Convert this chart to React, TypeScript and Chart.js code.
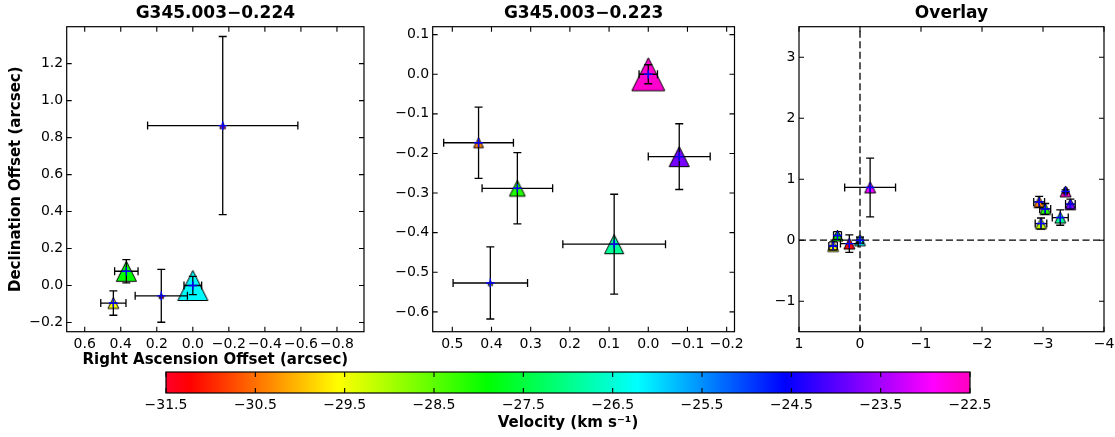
import React, { useEffect, useRef } from "react";
import { Chart, registerables } from "chart.js";

Chart.register(...registerables);

// ---------------- DATA ----------------
// G345.003−0.224 maser spots (offsets in arcsec, velocity in km/s, relative peak intensity)
const g224RA = [-0.166, 0.369, 0.441, 0.175, 0.0];
const g224Dec = [0.865, 0.077, -0.095, -0.056, 0.0];
const g224RAErr = [0.417, 0.065, 0.07, 0.145, 0.049];
const g224DecErr = [0.482, 0.063, 0.066, 0.143, 0.049];
const g224Velocity = [-23.0, -27.9, -29.55, -31.3, -26.2];
const g224Intensity = [0.18, 0.61, 0.33, 0.15, 0.91];

// G345.003−0.223 maser spots
const g223RA = [0.0, 0.433, 0.334, -0.079, 0.087, 0.403];
const g223Dec = [0.0, -0.173, -0.288, -0.208, -0.429, -0.527];
const g223RAErr = [0.0235, 0.089, 0.09, 0.079, 0.131, 0.095];
const g223DecErr = [0.024, 0.09, 0.09, 0.083, 0.126, 0.091];
const g223Velocity = [-22.6, -30.4, -28.1, -23.8, -26.9, -29.15];
const g223Intensity = [1.0, 0.3, 0.48, 0.61, 0.58, 0.15];

// reference position of G345.003−0.223 relative to G345.003−0.224 (arcsec)
const g223OffsetRA = -3.37;
const g223OffsetDec = 0.8;

// velocity colour range
const velocityMin = -31.5;
const velocityMax = -22.5;

// tick values
const p1XTicks = [0.6, 0.4, 0.2, 0, -0.2, -0.4, -0.6, -0.8];
const p1YTicks = [-0.2, 0, 0.2, 0.4, 0.6, 0.8, 1.0, 1.2];
const p2XTicks = [0.5, 0.4, 0.3, 0.2, 0.1, 0, -0.1, -0.2];
const p2YTicks = [-0.6, -0.5, -0.4, -0.3, -0.2, -0.1, 0, 0.1];
const p3XTicks = [1, 0, -1, -2, -3, -4];
const p3YTicks = [-1, 0, 1, 2, 3];
const cbTicks = [-31.5, -30.5, -29.5, -28.5, -27.5, -26.5, -25.5, -24.5, -23.5, -22.5];

// ---------------- STYLE HELPERS ----------------
const FAMILY = "'DejaVu Sans'";
Chart.defaults.font.family = FAMILY;
Chart.defaults.color = "#000";

const MAX_MARKER = 33; // px for intensity 1
const OVERLAY_MARKER = 11;

const GIST: [number, number[]][] = [
  [0.0, [1, 0, 0.16]],
  [0.03, [1, 0, 0]],
  [0.215, [1, 1, 0]],
  [0.4, [0, 1, 0]],
  [0.586, [0, 1, 1]],
  [0.77, [0, 0, 1]],
  [0.954, [1, 0, 1]],
  [1.0, [1, 0, 0.75]],
];
const rgb = (c: number[]) =>
  `rgb(${Math.round(c[0] * 255)},${Math.round(c[1] * 255)},${Math.round(c[2] * 255)})`;
function gistRainbow(v: number) {
  let t = (v - velocityMin) / (velocityMax - velocityMin);
  t = Math.max(0, Math.min(1, t));
  for (let i = 0; i < GIST.length - 1; i++) {
    const [t0, c0] = GIST[i];
    const [t1, c1] = GIST[i + 1];
    if (t >= t0 && t <= t1) {
      const f = (t - t0) / (t1 - t0);
      return rgb([0, 1, 2].map((k) => c0[k] + (c1[k] - c0[k]) * f));
    }
  }
  return rgb(GIST[GIST.length - 1][1]);
}

function makeTriangle(s: number, fill: string) {
  const edge = 1;
  const w = Math.ceil(s + 2 * edge + 2);
  const c = document.createElement("canvas");
  c.width = w;
  c.height = w;
  const g = c.getContext("2d")!;
  const cx = w / 2;
  const cy = w / 2;
  g.beginPath();
  g.moveTo(cx, cy - s / 2);
  g.lineTo(cx + s / 2, cy + s / 2);
  g.lineTo(cx - s / 2, cy + s / 2);
  g.closePath();
  g.fillStyle = fill;
  g.fill();
  g.lineWidth = edge;
  g.strokeStyle = "#000";
  g.stroke();
  return c;
}

const fmt = (v: number, d: number) => Number(v).toFixed(d).replace("-", "\u2212");

// ---------------- PLUGINS ----------------
const frameTicks = {
  id: "frameTicks",
  afterDraw(chart: any) {
    const { ctx, chartArea: a, scales } = chart;
    const L = 5;
    ctx.save();
    ctx.strokeStyle = "#000";
    ctx.lineWidth = 1.1;
    ctx.beginPath();
    const xs = scales.x;
    if (xs) {
      xs.ticks.forEach((t: any) => {
        const p = xs.getPixelForValue(t.value);
        ctx.moveTo(p, a.bottom);
        ctx.lineTo(p, a.bottom - L);
        ctx.moveTo(p, a.top);
        ctx.lineTo(p, a.top + L);
      });
    }
    const ys = scales.y;
    if (ys && ys.options.display) {
      ys.ticks.forEach((t: any) => {
        const p = ys.getPixelForValue(t.value);
        ctx.moveTo(a.left, p);
        ctx.lineTo(a.left + L, p);
        ctx.moveTo(a.right, p);
        ctx.lineTo(a.right - L, p);
      });
    }
    ctx.stroke();
    ctx.lineWidth = 1.2;
    ctx.strokeRect(a.left, a.top, a.right - a.left, a.bottom - a.top);
    ctx.restore();
  },
};

const errorBars = {
  id: "errorBars",
  afterDatasetDraw(chart: any, args: any) {
    const ds = chart.data.datasets[args.index];
    if (!ds.errX) return;
    const { ctx } = chart;
    const xs = chart.scales.x;
    const ys = chart.scales.y;
    const cap = 4;
    ctx.save();
    ctx.strokeStyle = "#000";
    ctx.lineWidth = 1.3;
    ds.data.forEach((p: any, i: number) => {
      const cx = xs.getPixelForValue(p.x);
      const cy = ys.getPixelForValue(p.y);
      const x0 = xs.getPixelForValue(p.x - ds.errX[i]);
      const x1 = xs.getPixelForValue(p.x + ds.errX[i]);
      const y0 = ys.getPixelForValue(p.y - ds.errY[i]);
      const y1 = ys.getPixelForValue(p.y + ds.errY[i]);
      ctx.beginPath();
      ctx.moveTo(x0, cy);
      ctx.lineTo(x1, cy);
      ctx.moveTo(cx, y0);
      ctx.lineTo(cx, y1);
      ctx.moveTo(x0, cy - cap);
      ctx.lineTo(x0, cy + cap);
      ctx.moveTo(x1, cy - cap);
      ctx.lineTo(x1, cy + cap);
      ctx.moveTo(cx - cap, y0);
      ctx.lineTo(cx + cap, y0);
      ctx.moveTo(cx - cap, y1);
      ctx.lineTo(cx + cap, y1);
      ctx.stroke();
    });
    ctx.restore();
  },
};

const zeroLines = {
  id: "zeroLines",
  beforeDatasetsDraw(chart: any) {
    if (!chart.options.plugins.zeroLines?.enabled) return;
    const { ctx, chartArea: a, scales } = chart;
    const px = scales.x.getPixelForValue(0);
    const py = scales.y.getPixelForValue(0);
    ctx.save();
    ctx.strokeStyle = "#000";
    ctx.lineWidth = 1.3;
    ctx.setLineDash([7, 3.5]);
    ctx.beginPath();
    ctx.moveTo(a.left, py);
    ctx.lineTo(a.right, py);
    ctx.stroke();
    ctx.beginPath();
    ctx.moveTo(px, a.bottom);
    ctx.lineTo(px, a.top);
    ctx.stroke();
    ctx.restore();
  },
};

const colorbarFill = {
  id: "colorbarFill",
  beforeDatasetsDraw(chart: any) {
    if (!chart.options.plugins.colorbarFill?.enabled) return;
    const { ctx, chartArea: a, scales } = chart;
    const x0 = scales.x.getPixelForValue(velocityMin);
    const x1 = scales.x.getPixelForValue(velocityMax);
    const g = ctx.createLinearGradient(x0, 0, x1, 0);
    GIST.forEach(([t, c]) => g.addColorStop(t, rgb(c)));
    ctx.save();
    ctx.fillStyle = g;
    ctx.fillRect(x0, a.top, x1 - x0, a.bottom - a.top);
    ctx.restore();
  },
};

// ---------------- DATASET BUILDERS ----------------
function triangleDataset(
  ra: number[], dec: number[], raErr: number[], decErr: number[],
  vel: number[], sizes: number[], order: number
) {
  return {
    type: "scatter",
    data: ra.map((x, i) => ({ x, y: dec[i] })),
    pointStyle: sizes.map((s, i) => makeTriangle(s, gistRainbow(vel[i]))),
    pointRadius: sizes.map((s) => s / 2),
    errX: raErr,
    errY: decErr,
    order,
  };
}
function plusDataset(ra: number[], dec: number[], order: number) {
  return {
    type: "scatter",
    data: ra.map((x, i) => ({ x, y: dec[i] })),
    pointStyle: "cross",
    pointRadius: 4.3,
    pointBorderWidth: 1.4,
    pointBorderColor: "#0000ff",
    pointBackgroundColor: "#0000ff",
    borderColor: "#0000ff",
    order,
  };
}

type PanelSpec = {
  title: string;
  xMin: number; xMax: number; yMin: number; yMax: number;
  xTicks: number[]; yTicks: number[]; decimals: number;
  yAxisWidth: number; xAxisHeight: number; padRight: number;
  xTitle?: string; yTitle?: string;
  datasets: any[];
  zero?: boolean;
};

function panelConfig(p: PanelSpec): any {
  return {
    type: "scatter",
    data: { datasets: p.datasets },
    plugins: [zeroLines, errorBars, frameTicks],
    options: {
      responsive: false,
      animation: false,
      events: [],
      layout: { padding: { left: 0, right: p.padRight, top: 0, bottom: 0 } },
      plugins: {
        legend: { display: false },
        tooltip: { enabled: false },
        zeroLines: { enabled: !!p.zero },
        title: {
          display: true,
          text: p.title,
          fullSize: false,
          color: "#000",
          font: { size: 17, weight: "bold", family: FAMILY },
          padding: { top: 3.5, bottom: 2.8 },
        },
      },
      scales: {
        x: {
          type: "linear",
          min: p.xMin,
          max: p.xMax,
          reverse: true,
          grid: { display: false, drawTicks: false },
          border: { display: false },
          ticks: {
            autoSkip: false, maxRotation: 0, minRotation: 0, padding: 4,
            color: "#000", font: { size: 14 },
            callback: (v: number) => fmt(v, p.decimals),
          },
          title: p.xTitle
            ? { display: true, text: p.xTitle, color: "#000",
                font: { size: 15, weight: "bold" }, padding: { top: 0, bottom: 0.5 } }
            : { display: false },
          afterBuildTicks: (s: any) => { s.ticks = p.xTicks.map((value) => ({ value })); },
          afterFit: (s: any) => { s.height = p.xAxisHeight; s.paddingLeft = 0; s.paddingRight = 0; },
        },
        y: {
          type: "linear",
          min: p.yMin,
          max: p.yMax,
          grid: { display: false, drawTicks: false },
          border: { display: false },
          ticks: {
            autoSkip: false, padding: 3.5, color: "#000", font: { size: 14 },
            callback: (v: number) => fmt(v, p.decimals),
          },
          title: p.yTitle
            ? { display: true, text: p.yTitle, color: "#000",
                font: { size: 15, weight: "bold" }, padding: { top: 7.5, bottom: 0 } }
            : { display: false },
          afterBuildTicks: (s: any) => { s.ticks = p.yTicks.map((value) => ({ value })); },
          afterFit: (s: any) => { s.width = p.yAxisWidth; s.paddingTop = 0; s.paddingBottom = 0; },
        },
      },
    },
  };
}

function colorbarConfig(): any {
  return {
    type: "scatter",
    data: { datasets: [] },
    plugins: [colorbarFill, frameTicks],
    options: {
      responsive: false,
      animation: false,
      events: [],
      layout: { padding: { left: 26, right: 30, top: 2, bottom: 0 } },
      plugins: {
        legend: { display: false },
        tooltip: { enabled: false },
        colorbarFill: { enabled: true },
      },
      scales: {
        x: {
          type: "linear",
          min: velocityMin,
          max: velocityMax,
          grid: { display: false, drawTicks: false },
          border: { display: false },
          ticks: {
            autoSkip: false, maxRotation: 0, minRotation: 0, padding: 3.6,
            color: "#000", font: { size: 14 },
            callback: (v: number) => fmt(v, 1),
          },
          title: {
            display: true, text: "Velocity (km s\u207B\u00B9)", color: "#000",
            font: { size: 15, weight: "bold" }, padding: { top: 0, bottom: 5 },
          },
          afterBuildTicks: (s: any) => { s.ticks = cbTicks.map((value) => ({ value })); },
          afterFit: (s: any) => { s.height = 44; s.paddingLeft = 0; s.paddingRight = 0; },
        },
        y: { display: false, min: 0, max: 1 },
      },
    },
  };
}

function ChartBox({ left, top, width, height, make }: any) {
  const ref = useRef<HTMLCanvasElement>(null);
  useEffect(() => {
    const chart = new Chart(ref.current!, make());
    return () => chart.destroy();
  }, []);
  return (
    <canvas
      ref={ref}
      width={width}
      height={height}
      style={{ position: "absolute", left, top, width, height }}
    />
  );
}

const H = 370;

export default function App() {
  const p1 = () =>
    panelConfig({
      title: "G345.003\u22120.224",
      xMin: -0.95, xMax: 0.7, yMin: -0.25, yMax: 1.4,
      xTicks: p1XTicks, yTicks: p1YTicks, decimals: 1,
      yAxisWidth: 66.7, xAxisHeight: H - 331.7, padRight: 8.3,
      xTitle: "Right Ascension Offset (arcsec)",
      yTitle: "Declination Offset (arcsec)",
      datasets: [
        triangleDataset(g224RA, g224Dec, g224RAErr, g224DecErr, g224Velocity,
          g224Intensity.map((v) => v * MAX_MARKER), 2),
        plusDataset(g224RA, g224Dec, 1),
      ],
    });
  const p2 = () =>
    panelConfig({
      title: "G345.003\u22120.223",
      xMin: -0.22, xMax: 0.55, yMin: -0.65, yMax: 0.12,
      xTicks: p2XTicks, yTicks: p2YTicks, decimals: 1,
      yAxisWidth: 432.7 - 380, xAxisHeight: H - 331.7, padRight: 752 - 738.3,
      datasets: [
        triangleDataset(g223RA, g223Dec, g223RAErr, g223DecErr, g223Velocity,
          g223Intensity.map((v) => v * MAX_MARKER), 2),
        plusDataset(g223RA, g223Dec, 1),
      ],
    });
  const p3 = () => {
    const ra2 = g223RA.map((v) => v + g223OffsetRA);
    const dec2 = g223Dec.map((v) => v + g223OffsetDec);
    return panelConfig({
      title: "Overlay",
      xMin: -4, xMax: 1, yMin: -1.5, yMax: 3.5,
      xTicks: p3XTicks, yTicks: p3YTicks, decimals: 0,
      yAxisWidth: 799 - 752, xAxisHeight: H - 331.7, padRight: 11,
      zero: true,
      datasets: [
        triangleDataset(g224RA, g224Dec, g224RAErr, g224DecErr, g224Velocity,
          g224RA.map(() => OVERLAY_MARKER), 4),
        plusDataset(g224RA, g224Dec, 3),
        triangleDataset(ra2, dec2, g223RAErr, g223DecErr, g223Velocity,
          ra2.map(() => OVERLAY_MARKER), 2),
        plusDataset(ra2, dec2, 1),
      ],
    });
  };
  return (
    <div style={{ position: "absolute", left: 0, top: 0, width: 1115, height: 437, background: "#fff", overflow: "hidden" }}>
      <ChartBox left={0} top={0} width={380} height={H} make={p1} />
      <ChartBox left={380} top={0} width={372} height={H} make={p2} />
      <ChartBox left={752} top={0} width={363} height={H} make={p3} />
      <ChartBox left={140} top={370} width={860} height={67} make={colorbarConfig} />
    </div>
  );
}
